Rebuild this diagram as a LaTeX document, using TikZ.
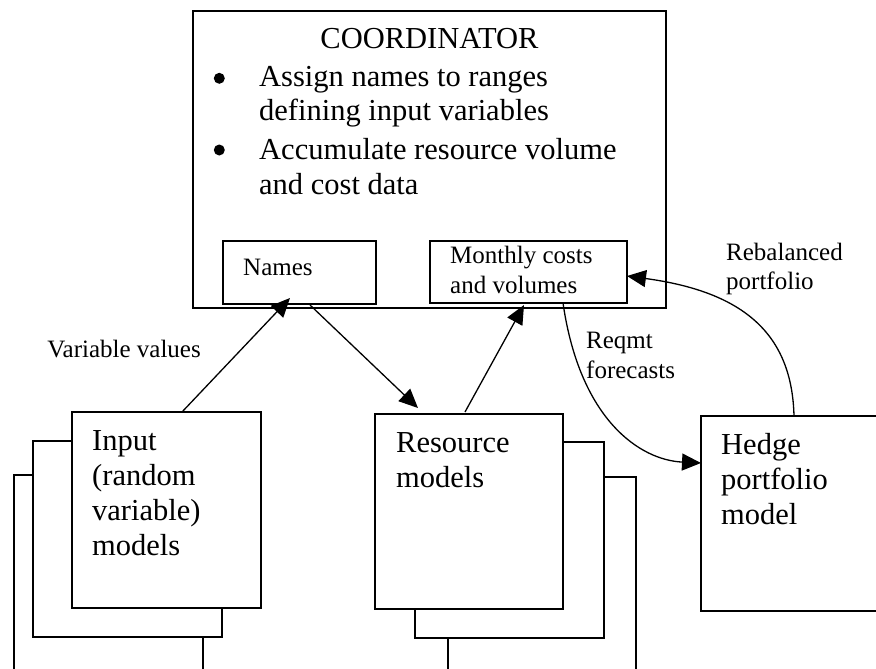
\documentclass[tikz,border=0pt]{standalone}
\usepackage{fontspec}
\setmainfont{Liberation Serif}
\usetikzlibrary{arrows.meta,calc}

\begin{document}
\begin{tikzpicture}[x=1pt,y=-1pt,
  box/.style={draw,line width=1.4pt,fill=white,inner sep=0pt,outer sep=0pt,anchor=north west},
  big/.style={font=\fontsize{30.5}{35}\selectfont,inner sep=0pt,anchor=base west},
  small/.style={font=\fontsize{25}{29}\selectfont,inner sep=0pt,anchor=base west},
  dot/.style={circle,fill,inner sep=0pt,minimum size=11pt},
  link/.style={line width=1.3pt,-{Triangle[length=19pt,width=17pt]}}]
\useasboundingbox (0,0) rectangle (876,669);
\clip (0,0) rectangle (876,669);

% coordinator and its two data areas
\node[box,minimum width=473pt,minimum height=297pt] (coord) at (193,11) {};
\node[box,minimum width=153pt,minimum height=63pt] (names) at (223,241) {};
\node[box,minimum width=197pt,minimum height=62pt] (monthly) at (430,241) {};

% stacked input models
\node[box,minimum width=189pt,minimum height=230pt] (in3) at (14,475) {};
\node[box,minimum width=189pt,minimum height=196pt] (in2) at (33,441) {};
\node[box,minimum width=189pt,minimum height=196pt] (in1) at (72,412) {};

% stacked resource models
\node[box,minimum width=188pt,minimum height=230pt] (res3) at (448,477) {};
\node[box,minimum width=189pt,minimum height=196pt] (res2) at (415,442) {};
\node[box,minimum width=188pt,minimum height=195pt] (res1) at (375,414) {};

% hedge portfolio model
\node[box,minimum width=230pt,minimum height=195pt] (hedge) at (701,416) {};

% texts of the coordinator
\node[font=\fontsize{30.5}{35}\selectfont,inner sep=0pt,anchor=base] (ctitle) at (429.5,49) {COORDINATOR};
\node[dot] (b1) at (219.3,78.3) {};
\node[big] (t1a) at (259,87) {Assign names to ranges};
\node[big] (t1b) at (259,121) {defining input variables};
\node[dot] (b2) at (219.3,150) {};
\node[big] (t2a) at (259,159) {Accumulate resource volume};
\node[big] (t2b) at (259,194) {and cost data};
\node[small] (tnames) at (243,275) {Names};
\node[small] (tmon1) at (450,263) {Monthly costs};
\node[small] (tmon2) at (450,293) {and volumes};

% texts of the model boxes
\node[big] (tin1) at (92,450) {Input};
\node[big] (tin2) at (92,485) {(random};
\node[big] (tin3) at (92,520) {variable)};
\node[big] (tin4) at (92,555) {models};
\node[big] (tres1) at (396,452) {Resource};
\node[big] (tres2) at (396,487) {models};
\node[big] (thed1) at (721,454) {Hedge};
\node[big] (thed2) at (721,489) {portfolio};
\node[big] (thed3) at (721,524) {model};

% connectors
\draw[link] ($(in1.north west)+(110,0)$) -- ($(names.south west)+(67,-6)$);
\draw[link] ($(names.south west)+(87,1)$) -- ($(res1.north west)+(43,-6)$);
\draw[link] ($(res1.north west)+(90,-2)$) -- ($(monthly.south west)+(94,2)$);
\draw[link] ($(monthly.south west)+(133,0)$) .. controls (580,420) and (640,460) .. ($(hedge.north west)+(0,47)$);
\draw[link] ($(hedge.north west)+(93,0)$) .. controls (792,335) and (745,292) .. ($(monthly.north east)+(0,35)$);

% connector labels
\node[small,anchor=base east] (lvar) at (201,357) {Variable values};
\node[small] (lreq1) at (586,348) {Reqmt};
\node[small] (lreq2) at (586,378) {forecasts};
\node[small] (lreb1) at (726,260) {Rebalanced};
\node[small] (lreb2) at (726,289) {portfolio};
\end{tikzpicture}
\end{document}
